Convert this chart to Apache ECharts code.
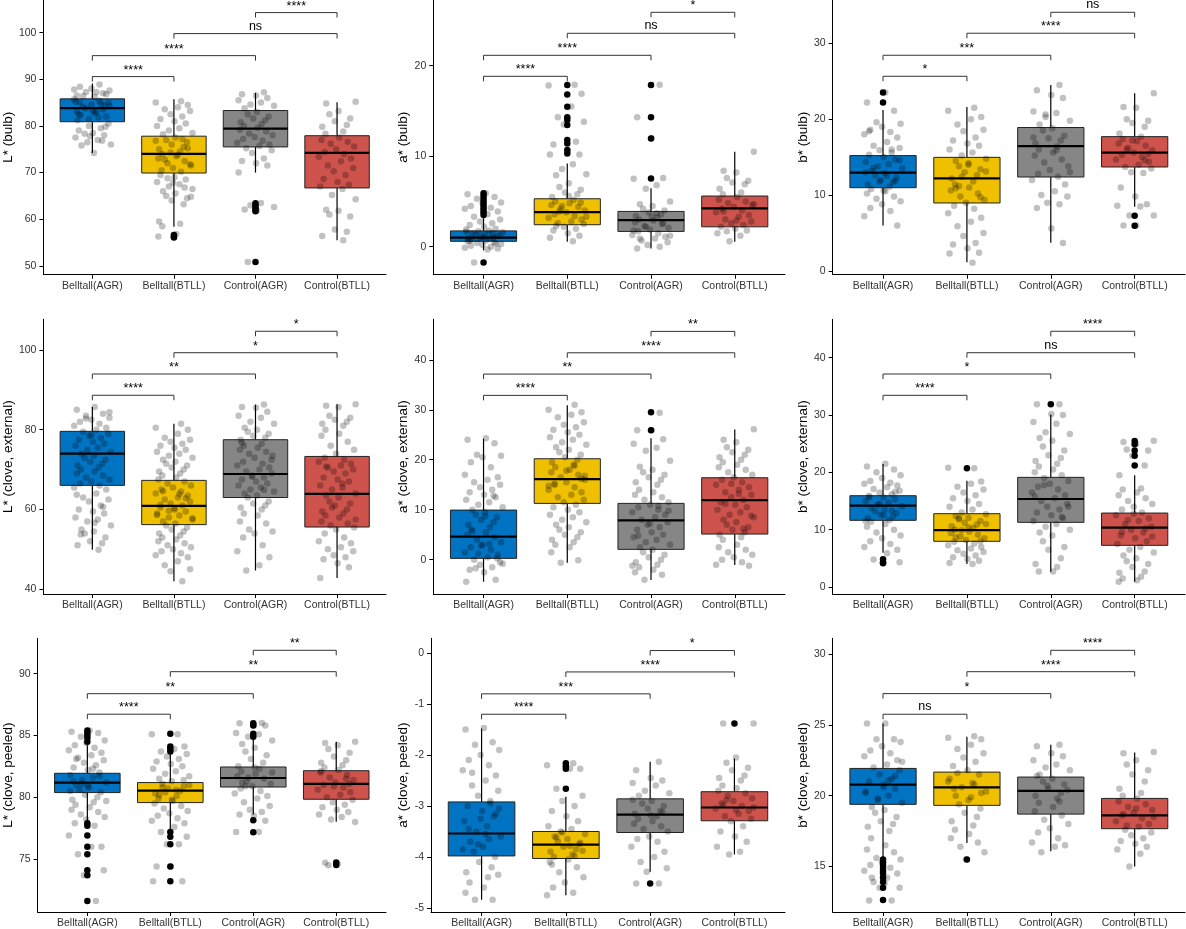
<!DOCTYPE html>
<html lang="en">
<head>
    <meta charset="UTF-8">
    <title>Colour boxplots</title>
    <script type="text/javascript" src="https://cdn.jsdelivr.net/npm/echarts@6/dist/echarts.min.js"></script>
    <style>
      html, body { margin: 0; padding: 0; background: #fff; }
      #main { width: 1186px; height: 929px; }
    </style>
</head>
<body>
  <div id="main"></div>

<script type="text/javascript">

// categories and colours
const CATEGORIES = ['Belltall(AGR)', 'Belltall(BTLL)', 'Control(AGR)', 'Control(BTLL)'];
const FILLS = ['#0073C2', '#EFC000', '#868686', '#CD534C'];
const Y_TITLES = ['L* (bulb)', 'a* (bulb)', 'b* (bulb)',
  'L* (clove, external)', 'a* (clove, external)', 'b* (clove, external)',
  'L* (clove, peeled)', 'a* (clove, peeled)', 'b* (clove, peeled)'];
const Y_TICKS = [[50, 60, 70, 80, 90, 100], [0, 10, 20], [0, 10, 20, 30],
  [40, 60, 80, 100], [0, 10, 20, 30, 40], [0, 10, 20, 30, 40],
  [75, 80, 85, 90], [-5, -4, -3, -2, -1, 0], [15, 20, 25, 30]];
const SIG_PAIRS = [[1, 2], [1, 3], [2, 4], [3, 4]];

// ---- panel 1 : L* (bulb) ----  box = [lower whisker, q1, median, q3, upper whisker]
const p1Box = [[74.2, 80.9, 83.8, 85.8, 89.1], [58.4, 69.9, 74.0, 77.8, 85.7], [70.0, 75.5, 79.4, 83.3, 87.1], [55.5, 66.7, 74.2, 77.9, 85.1]];
const p1Out = [[], [56.6, 56.3, 56.1], [63.4, 63.0, 62.5, 62.1, 61.7, 50.8], []];
const p1Pts = [
  [86.2, 86.5, 87, 87.3, 87.6, 88, 88.4, 88.9, 87.8, 86.8, 87.2, 86.4, 80.5, 80, 79.5, 79, 78.5, 78, 77.5, 77, 76.5, 76, 75.8, 74.2, 78.3, 79.8, 77.8, 76.8, 81.2, 81.8, 82.3, 82.7, 83.1, 83.5, 83.8, 84.2, 84.6, 85, 85.4, 85.7, 82, 83, 84, 85, 81.5, 84.8, 82.5, 83.3, 84.4, 85.2],
  [85.3, 85, 84.5, 84, 83.6, 83.2, 82.5, 82, 81.5, 81, 80.5, 80, 79.5, 79, 78.5, 78.2, 77.5, 77, 76.5, 76, 75.5, 75, 74.5, 74, 73.5, 73, 72.5, 72, 71.5, 71, 70.5, 70.2, 76.8, 75.2, 73.8, 72.8, 71.8, 74.3, 77.2, 69.5, 69, 68.5, 68, 67.5, 67, 66.5, 66, 65.5, 65, 64.5, 64, 63.2, 59.5, 59, 58.5, 56.8, 56.3, 66.8, 68.8, 64.8, 67.8],
  [87.2, 86.8, 86.5, 86, 85.5, 85, 84.6, 84.3, 83.8, 83, 82.5, 82, 81.6, 81.2, 80.8, 80.4, 80, 79.6, 79.2, 78.8, 78.4, 78, 77.6, 77.2, 76.8, 76.4, 76, 75.7, 75.2, 74.8, 74.2, 73, 72.5, 72, 71.5, 70, 63.5, 63, 62.6, 62.1, 61.8, 50.8],
  [85.2, 84.8, 83.2, 82.5, 81.6, 81, 80.2, 79.8, 78.8, 78.3, 77.5, 77, 76.6, 76.2, 75.6, 75, 74.4, 74, 73.4, 73, 72.4, 71.5, 71, 70.3, 69.5, 68.6, 68, 67.4, 67, 66.5, 65.2, 64.3, 62, 61.8, 61, 60.6, 57.8, 57.3, 56.4, 55.5]];
const p1SigY = [90.58, 95.07, 99.8, 104.3];
const p1SigLab = ['****', '****', 'ns', '****'];

// ---- panel 2 : a* (bulb) ----
const p2Box = [[-0.4, 0.6, 1.0, 1.75, 3.3], [0.55, 2.43, 3.83, 5.3, 9.2], [-0.2, 1.69, 2.95, 3.9, 6.45], [0.55, 2.2, 4.24, 5.6, 10.5]];
const p2Out = [[3.5, 3.8, 4.1, 4.4, 4.7, 5.0, 5.3, 5.6, 5.9, -1.75], [17.86, 16.83, 15.47, 14.3, 14.0, 13.44, 11.8, 11.4, 10.7, 10.3], [17.86, 14.3, 11.97, 7.55], []];
const p2Pts = [
  [5.9, 5.8, 5.5, 5.3, 4.9, 4.8, 4.5, 4.3, 4.2, 3.9, 3.6, 3.3, 3.0, 2.8, 2.6, 2.4, 2.2, 2.0, 1.9, 1.8, 1.7, 1.6, 1.5, 1.4, 1.3, 1.2, 1.1, 1.0, 0.95, 0.9, 0.8, 0.7, 0.6, 0.5, 0.4, 0.3, 0.2, 0.1, 0, -0.1, -0.2, -0.3, -1.75, 1.25, 0.85, 1.45, 0.65, 1.05, 0.35, 1.65],
  [17.9, 17.8, 16.9, 15.5, 14.3, 13.8, 13.5, 11.6, 11.3, 10.6, 10.2, 10.2, 9.1, 8.6, 8.0, 7.9, 7.0, 6.6, 6.3, 6.0, 5.8, 5.5, 5.2, 5.0, 4.8, 4.6, 4.4, 4.2, 4.0, 3.8, 3.6, 3.4, 3.2, 3.0, 2.8, 2.6, 2.5, 2.2, 2.0, 1.8, 1.5, 1.2, 1.0, 0.6, 4.5, 3.3, 2.3, 5.6, 3.9, 4.9],
  [17.9, 14.3, 12.0, 7.6, 7.5, 6.8, 6.4, 5.0, 4.7, 4.5, 4.2, 4.0, 3.8, 3.6, 3.4, 3.2, 3.0, 2.9, 2.7, 2.5, 2.3, 2.1, 1.9, 1.7, 1.5, 1.3, 1.1, 0.9, 0.7, 0.5, 0.2, 0, -0.2, 3.3, 2.6, 1.8, 3.7, 2.2, 1.2, 0.9],
  [10.5, 8.4, 8.2, 7.6, 7.3, 7.1, 6.9, 6.4, 6.0, 5.8, 5.5, 5.2, 5.0, 4.8, 4.6, 4.4, 4.2, 4.0, 3.8, 3.5, 3.3, 3.0, 2.8, 2.6, 2.4, 2.2, 2.0, 1.8, 1.5, 1.2, 0.6, 4.7, 3.9, 2.9, 1.7]];
const p2SigY = [18.83, 21.15, 23.58, 25.9];
const p2SigLab = ['****', '****', 'ns', '*'];

// ---- panel 3 : b* (bulb) ----
const p3Box = [[6.0, 10.97, 12.95, 15.2, 21.2], [1.14, 8.96, 12.2, 14.97, 21.6], [3.73, 12.38, 16.46, 18.9, 24.5], [8.47, 13.7, 15.58, 17.7, 23.4]];
const p3Out = [[23.5, 22.2], [], [], [7.29, 5.97]];
const p3Pts = [
  [23.5, 22.2, 21.1, 19.6, 19.4, 19.0, 18.6, 18.3, 18.0, 17.6, 17.0, 16.5, 16.2, 15.9, 15.6, 15.3, 15.0, 14.7, 14.4, 14.1, 13.8, 13.5, 13.2, 12.9, 12.6, 12.3, 12.0, 11.7, 11.4, 11.1, 10.8, 10.5, 10.2, 9.8, 9.5, 9.2, 8.8, 8.3, 7.9, 7.2, 6.0, 12.5, 13.6, 14.6, 11.8, 16.0, 18.4, 10.6, 11.9, 13.0],
  [21.5, 21.1, 20.3, 20.0, 19.3, 18.6, 18.4, 17.6, 17.2, 16.8, 16.5, 16.0, 15.6, 15.2, 14.8, 14.5, 14.2, 13.8, 13.4, 13.0, 12.6, 12.2, 11.8, 11.4, 11.0, 10.6, 10.2, 9.8, 9.4, 9.0, 8.6, 8.2, 7.6, 7.0, 6.5, 5.9, 5.0, 4.6, 3.7, 3.5, 3.0, 2.4, 2.3, 1.1, 12.4, 13.1, 10.9, 14.0, 11.2, 9.7],
  [24.5, 23.8, 23.2, 22.8, 21.0, 20.8, 20.3, 19.8, 19.3, 18.8, 18.5, 17.8, 17.5, 17.2, 16.8, 16.4, 16.0, 15.6, 15.2, 14.7, 14.3, 13.8, 13.3, 12.8, 12.4, 12.0, 11.4, 10.5, 10.0, 9.8, 9.0, 8.8, 8.3, 5.6, 3.7, 17.6, 15.9, 20.6, 13.0],
  [23.4, 21.6, 21.5, 20.0, 19.8, 19.5, 19.0, 18.1, 17.7, 17.4, 17.1, 16.8, 16.5, 16.2, 15.9, 15.6, 15.3, 15.0, 14.7, 14.4, 14.0, 13.7, 13.5, 13.0, 12.9, 11.0, 9.8, 8.8, 8.6, 8.5, 7.3, 7.3, 6.0, 6.0, 16.0, 15.4, 17.2, 14.6]];
const p3SigY = [25.65, 28.42, 31.32, 34.08];
const p3SigLab = ['*', '***', '****', 'ns'];

// ---- panel 4 : L* (clove, external) ----
const p4Box = [[49.9, 66.05, 74.0, 79.6, 85.7], [42.0, 56.2, 60.9, 67.3, 81.5], [44.7, 63.0, 68.9, 77.5, 86.3], [42.8, 55.6, 63.9, 73.3, 86.4]];
const p4Out = [[], [], [], []];
const p4Pts = [
  [85.7, 85.0, 84.0, 83.5, 83.0, 82.5, 82.0, 81.5, 81.0, 80.5, 80.0, 79.5, 79.0, 78.5, 78.0, 77.5, 77.0, 76.5, 76.0, 75.5, 75.0, 74.5, 74.0, 73.5, 73.0, 72.5, 72.0, 71.5, 71.0, 70.5, 70.0, 69.5, 69.0, 68.5, 68.0, 67.5, 67.0, 66.5, 66.0, 65.5, 65.0, 64.0, 63.0, 62.5, 62.0, 61.0, 60.0, 59.5, 59.0, 58.0, 57.5, 57.0, 56.0, 55.0, 54.5, 54.0, 53.0, 52.0, 51.5, 51.0, 49.9, 53.7, 56.7, 63.7, 60.6, 82.8, 84.4, 78.7],
  [81.5, 80.5, 80.0, 79.0, 78.0, 77.5, 77.0, 76.5, 76.0, 75.5, 75.0, 74.5, 74.0, 73.5, 73.0, 72.5, 72.0, 71.5, 71.0, 70.5, 70.0, 69.5, 69.0, 68.5, 68.0, 67.5, 67.0, 66.5, 66.0, 65.5, 65.0, 64.5, 64.0, 63.5, 63.0, 62.5, 62.0, 61.5, 61.0, 60.5, 60.0, 59.5, 59.0, 58.5, 58.0, 57.5, 57.0, 56.5, 56.0, 55.5, 55.0, 54.5, 54.0, 53.5, 53.0, 52.5, 52.0, 51.5, 51.0, 50.5, 50.0, 49.5, 49.0, 48.5, 48.0, 47.0, 46.0, 45.0, 44.5, 42.0, 61.2, 60.3, 62.8, 58.6, 63.9, 59.7, 57.8, 64.6],
  [86.3, 85.7, 85.5, 84.5, 83.5, 83.0, 82.0, 81.5, 80.5, 80.0, 79.5, 79.0, 78.5, 78.0, 77.5, 76.5, 76.0, 75.5, 75.0, 74.5, 74.0, 73.5, 73.0, 72.0, 71.5, 71.0, 70.5, 70.0, 69.5, 69.0, 68.5, 68.0, 67.5, 67.0, 66.5, 66.0, 65.5, 65.0, 64.5, 64.0, 63.5, 63.0, 62.0, 61.5, 61.0, 60.5, 60.0, 59.0, 58.5, 57.0, 56.5, 55.0, 54.5, 54.0, 53.0, 51.0, 49.5, 48.0, 46.0, 44.7, 72.5, 68.2, 64.9, 76.7],
  [86.4, 86.0, 85.7, 83.5, 83.0, 82.5, 82.0, 81.5, 81.0, 80.0, 79.0, 78.5, 77.0, 76.0, 75.0, 74.0, 73.0, 72.5, 72.0, 71.5, 71.0, 70.5, 70.0, 69.5, 69.0, 68.0, 67.5, 67.0, 66.0, 65.5, 65.0, 64.0, 63.5, 63.0, 62.0, 61.5, 61.0, 60.0, 59.5, 59.0, 58.5, 58.0, 57.0, 56.5, 56.0, 55.5, 55.0, 54.0, 53.0, 52.0, 51.5, 50.5, 50.0, 49.5, 48.5, 48.0, 47.5, 46.5, 45.5, 42.8, 66.5, 60.5, 57.5, 70.8]];
const p4SigY = [88.65, 93.98, 99.32, 104.7];
const p4SigLab = ['****', '**', '*', '*'];

// ---- panel 5 : a* (clove, external) ----
const p5Box = [[-4.4, 0.27, 4.6, 9.93, 24.2], [-0.6, 11.27, 16.13, 20.2, 30.9], [-4.07, 2.07, 7.87, 11.27, 24.3], [-1.07, 5.13, 11.93, 16.4, 26.07]];
const p5Out = [[], [], [29.5, 25.9], []];
const p5Pts = [
  [24.3, 24.0, 23.3, 21.0, 20.8, 20.5, 19.5, 18.5, 17.0, 16.5, 16.0, 15.5, 15.0, 14.5, 14.0, 13.5, 13.0, 12.5, 12.0, 11.5, 11.0, 10.5, 10.0, 9.5, 9.0, 8.5, 8.0, 7.5, 7.0, 6.5, 6.0, 5.5, 5.0, 4.5, 4.0, 3.5, 3.0, 2.5, 2.0, 1.5, 1.0, 0.5, 0.0, -0.5, -1.0, -1.5, -2.0, -2.5, -4.0, -4.4, 3.2, 1.2, -0.8, 5.7, 8.7, -1.7, 0.3, 2.8, 12.8],
  [31.0, 30.0, 29.5, 29.0, 28.5, 27.5, 27.0, 26.5, 26.0, 25.5, 25.0, 24.5, 24.0, 23.5, 23.0, 22.5, 22.0, 21.5, 21.0, 20.5, 20.0, 19.5, 19.0, 18.5, 18.0, 17.5, 17.0, 16.5, 16.0, 15.5, 15.0, 14.5, 14.0, 13.5, 13.0, 12.5, 12.0, 11.5, 11.0, 10.5, 10.0, 9.5, 9.0, 8.5, 8.0, 7.5, 7.0, 6.5, 6.0, 5.5, 5.0, 4.5, 4.0, 3.5, 3.0, 2.5, 1.5, -0.1, -0.6, 16.8, 17.8, 15.2, 18.8, 14.8, 16.2],
  [29.4, 25.9, 25.9, 24.1, 23.2, 22.4, 21.8, 19.8, 18.6, 18.0, 17.5, 17.0, 16.5, 16.0, 15.5, 15.0, 14.0, 13.5, 13.0, 12.5, 12.0, 11.5, 11.0, 10.5, 10.0, 9.5, 9.0, 8.5, 8.0, 7.5, 7.0, 6.5, 6.0, 5.5, 5.0, 4.5, 4.0, 3.5, 3.0, 2.5, 2.0, 1.5, 1.0, 0.5, 0.0, -0.5, -1.0, -1.5, -2.0, -2.5, -3.0, -4.0, 9.8, 7.2, 4.8, 10.8, -1.2],
  [26.1, 24.0, 23.5, 22.5, 22.0, 21.5, 21.0, 20.5, 20.0, 19.5, 19.0, 18.5, 18.0, 17.5, 17.0, 16.5, 16.0, 15.5, 15.0, 14.5, 14.0, 13.5, 13.0, 12.5, 12.0, 11.5, 11.0, 10.5, 10.0, 9.5, 9.0, 8.5, 8.0, 7.5, 7.0, 6.5, 6.0, 5.5, 5.0, 4.5, 4.0, 3.0, 2.5, 2.0, 1.5, 1.0, 0.5, 0.0, -0.5, -1.0, -1.2, 13.2, 11.2, 8.8, 15.2, 6.2]];
const p5SigY = [32.88, 37.14, 41.4, 45.68];
const p5SigLab = ['****', '**', '****', '**'];

// ---- panel 6 : b* (clove, external) ----
const p6Box = [[5.99, 11.63, 14.19, 15.93, 21.45], [4.01, 7.97, 9.94, 12.79, 18.55], [2.67, 11.28, 15.35, 19.13, 30.1], [0.93, 7.27, 10.35, 12.9, 19.5]];
const p6Out = [[4.83, 4.3, 4.13], [20.7], [31.86], [25.47, 24.9, 23.8, 22.9, 21.2]];
const p6Pts = [
  [21.5, 21.0, 20.5, 20.0, 19.5, 19.0, 18.5, 18.2, 18.0, 17.7, 17.4, 17.1, 16.8, 16.5, 16.2, 15.9, 15.6, 15.3, 15.0, 14.7, 14.4, 14.1, 13.8, 13.5, 13.2, 12.9, 12.6, 12.3, 12.0, 11.7, 11.4, 11.0, 10.5, 10.0, 9.5, 9.0, 8.5, 8.0, 7.5, 7.0, 6.5, 5.9, 4.8, 4.3, 14.5, 13.3, 15.6, 12.5, 16.6, 11.5],
  [20.7, 20.8, 18.4, 18.0, 17.5, 17.0, 16.5, 16.0, 15.5, 15.0, 14.5, 14.0, 13.5, 13.0, 12.7, 12.4, 12.1, 11.8, 11.5, 11.2, 10.9, 10.6, 10.3, 10.0, 9.7, 9.4, 9.1, 8.8, 8.5, 8.2, 7.9, 7.6, 7.3, 7.0, 6.7, 6.4, 6.1, 5.8, 5.5, 5.2, 4.9, 4.6, 4.2, 4.0, 9.9, 11.0, 8.7, 10.4, 12.0, 8.0],
  [31.9, 31.9, 30.2, 30.0, 28.8, 28.5, 27.0, 26.7, 26.0, 25.5, 24.5, 23.8, 23.0, 22.5, 22.0, 21.5, 21.0, 20.5, 20.0, 19.5, 19.0, 18.5, 18.0, 17.5, 17.0, 16.5, 16.0, 15.5, 15.0, 14.5, 14.0, 13.5, 13.0, 12.5, 12.0, 11.5, 11.0, 10.5, 10.0, 9.5, 9.0, 8.0, 7.0, 6.5, 5.0, 4.0, 3.5, 2.7, 2.7, 15.8, 12.2, 17.8, 14.0],
  [25.5, 25.3, 25.0, 24.0, 23.8, 22.9, 21.2, 19.5, 17.2, 17.0, 16.5, 16.0, 15.5, 15.0, 14.5, 14.0, 13.5, 13.0, 12.5, 12.0, 11.5, 11.0, 10.5, 10.0, 9.5, 9.0, 8.5, 8.0, 7.5, 7.0, 6.5, 6.0, 5.5, 5.0, 4.5, 4.0, 3.5, 2.7, 2.5, 1.8, 1.5, 1.2, 0.9, 10.2, 11.7, 8.8, 12.8, 9.6]];
const p6SigY = [33.44, 37.16, 40.87, 44.61];
const p6SigLab = ['****', '*', 'ns', '****'];

// ---- panel 7 : L* (clove, peeled) ----
const p7Box = [[78.1, 80.38, 81.19, 81.94, 84.2], [77.3, 79.57, 80.54, 81.19, 83.6], [78.6, 80.83, 81.56, 82.45, 84.7], [78.03, 79.84, 81.08, 82.15, 84.5]];
const p7Out = [[85.4, 85.2, 85.0, 84.8, 84.5, 77.9, 77.7, 76.9, 76.0, 75.4, 74.1, 73.7, 71.6], [85.14, 84.1, 83.9, 83.7, 77.2, 76.8, 76.2, 74.4, 73.2], [85.98, 85.8, 85.14, 84.9, 78.14, 77.17], [74.72, 74.53]];
const p7Pts = [
  [85.4, 85.3, 85.2, 84.9, 84.6, 84.4, 84.2, 84.0, 83.8, 83.6, 83.4, 83.2, 83.0, 82.8, 82.6, 82.4, 82.2, 82.0, 81.8, 81.6, 81.4, 81.2, 81.0, 80.8, 80.6, 80.4, 80.2, 80.0, 79.8, 79.6, 79.4, 79.2, 79.0, 78.8, 78.6, 78.4, 78.2, 77.9, 77.7, 76.9, 76.0, 76.0, 75.4, 74.1, 73.7, 71.6, 81.3, 80.9, 81.7, 80.5, 82.3, 81.1, 79.7, 83.1],
  [85.1, 85.1, 84.1, 83.9, 83.7, 83.5, 83.3, 83.1, 82.9, 82.7, 82.5, 82.3, 82.1, 81.9, 81.7, 81.5, 81.3, 81.1, 80.9, 80.7, 80.5, 80.3, 80.1, 79.9, 79.7, 79.5, 79.3, 79.1, 78.9, 78.7, 78.5, 78.3, 78.1, 77.9, 77.6, 77.2, 76.8, 76.2, 76.2, 74.4, 74.4, 73.2, 73.2, 80.6, 80.4, 81.0, 80.2, 79.8, 80.8, 81.4],
  [86.0, 85.98, 85.8, 85.8, 85.2, 85.1, 84.9, 84.6, 84.3, 84.0, 83.7, 83.4, 83.1, 82.8, 82.5, 82.3, 82.1, 81.9, 81.7, 81.5, 81.3, 81.1, 80.9, 80.7, 80.5, 80.3, 80.1, 79.9, 79.6, 79.3, 79.0, 78.8, 78.6, 78.5, 78.1, 77.2, 77.2, 81.6, 82.0, 81.2, 82.4, 80.9],
  [84.5, 84.4, 84.2, 83.9, 83.6, 83.3, 83.0, 82.8, 82.6, 82.4, 82.2, 82.0, 81.8, 81.6, 81.4, 81.2, 81.0, 80.8, 80.6, 80.4, 80.2, 80.0, 79.8, 79.6, 79.4, 79.2, 79.0, 78.8, 78.6, 78.4, 78.2, 78.0, 74.7, 74.6, 74.5, 81.1, 80.9, 81.5, 82.1]];
const p7SigY = [86.72, 88.38, 90.16, 91.89];
const p7SigLab = ['****', '**', '**', '**'];

// ---- panel 8 : a* (clove, peeled) ----
const p8Box = [[-4.84, -3.98, -3.54, -2.92, -1.48], [-4.75, -4.03, -3.76, -3.5, -2.82], [-4.29, -3.52, -3.17, -2.86, -2.13], [-3.95, -3.29, -3.03, -2.72, -2.07]];
const p8Out = [[], [-2.16, -2.22, -2.27, -2.66], [-4.52], [-1.38]];
const p8Pts = [
  [-1.47, -1.5, -1.75, -1.8, -1.9, -2.0, -2.1, -2.2, -2.3, -2.4, -2.5, -2.6, -2.7, -2.8, -2.9, -3.0, -3.1, -3.2, -3.3, -3.4, -3.5, -3.6, -3.7, -3.8, -3.9, -4.0, -4.1, -4.2, -4.3, -4.4, -4.5, -4.6, -4.7, -4.84, -4.84, -3.05, -3.25, -3.45, -3.65, -3.85, -3.15, -3.55, -2.35, -4.35, -3.75, -2.95],
  [-2.16, -2.2, -2.27, -2.27, -2.66, -2.8, -2.9, -3.0, -3.1, -3.2, -3.3, -3.4, -3.45, -3.5, -3.55, -3.6, -3.65, -3.7, -3.75, -3.8, -3.85, -3.9, -3.95, -4.0, -4.05, -4.1, -4.2, -4.3, -4.4, -4.5, -4.6, -4.7, -4.75, -3.72, -3.78, -3.62, -3.88, -3.52, -3.98, -4.15],
  [-2.13, -2.3, -2.45, -2.5, -2.55, -2.6, -2.7, -2.75, -2.8, -2.9, -2.95, -3.0, -3.05, -3.1, -3.15, -3.2, -3.25, -3.3, -3.35, -3.4, -3.45, -3.5, -3.6, -3.65, -3.7, -3.8, -3.9, -4.0, -4.1, -4.22, -4.29, -4.52, -4.52, -3.18, -3.12, -2.88],
  [-1.38, -1.38, -2.05, -2.15, -2.25, -2.3, -2.4, -2.45, -2.5, -2.6, -2.65, -2.7, -2.75, -2.8, -2.85, -2.9, -2.95, -3.0, -3.05, -3.1, -3.15, -3.2, -3.25, -3.3, -3.4, -3.5, -3.6, -3.7, -3.8, -3.9, -3.95, -3.03, -2.98, -3.08, -2.88]];
const p8SigY = [-1.2, -0.8, -0.37, 0.05];
const p8SigLab = ['****', '***', '****', '*'];

// ---- panel 9 : b* (clove, peeled) ----
const p9Box = [[15.6, 19.39, 20.78, 21.93, 25.1], [16.66, 19.32, 20.59, 21.67, 24.17], [16.07, 18.7, 20.35, 21.32, 23.6], [15.0, 17.67, 18.61, 19.81, 23.06]];
const p9Out = [[15.5, 15.3, 15.1, 14.9, 14.7, 14.5, 14.2, 13.9, 13.5, 12.63], [15.5], [], []];
const p9Pts = [
  [25.1, 25.1, 24.0, 24.0, 23.8, 23.5, 23.2, 23.0, 22.8, 22.5, 22.2, 22.0, 21.8, 21.5, 21.2, 21.0, 20.8, 20.5, 20.2, 20.0, 19.8, 19.5, 19.2, 19.0, 18.8, 18.5, 18.2, 18.0, 17.8, 17.5, 17.0, 16.5, 16.2, 16.0, 15.6, 15.5, 15.3, 15.1, 14.9, 14.7, 14.5, 14.2, 13.9, 13.5, 13.5, 12.6, 12.6, 20.6, 21.4, 20.3, 21.1, 19.7, 22.4, 14.2, 13.8],
  [24.2, 24.1, 24.0, 23.6, 23.3, 23.0, 22.7, 22.4, 22.1, 21.8, 21.5, 21.2, 20.9, 20.6, 20.3, 20.0, 19.7, 19.4, 19.1, 18.8, 18.5, 18.2, 17.9, 17.6, 17.3, 17.0, 16.7, 16.4, 16.0, 15.5, 20.5, 20.8, 21.0, 20.2, 19.9, 21.6],
  [23.6, 23.5, 23.0, 22.8, 22.5, 22.2, 22.0, 21.8, 21.5, 21.2, 21.0, 20.8, 20.5, 20.2, 20.0, 19.8, 19.5, 19.2, 18.9, 18.6, 18.3, 18.0, 17.7, 17.4, 17.0, 16.7, 16.5, 16.4, 16.0, 20.4, 20.7, 19.6, 21.4],
  [23.1, 23.0, 22.5, 22.2, 21.8, 21.5, 21.0, 20.5, 20.2, 20.0, 19.8, 19.6, 19.4, 19.2, 19.0, 18.8, 18.6, 18.4, 18.2, 18.0, 17.8, 17.6, 17.4, 17.2, 17.0, 16.8, 16.6, 16.4, 16.2, 15.9, 15.0, 18.5, 18.7, 19.1, 17.9]];
const p9SigY = [25.76, 27.22, 28.77, 30.28];
const p9SigLab = ['ns', '*', '****', '****'];

const PANELS = [
  {box: p1Box, out: p1Out, pts: p1Pts, sigY: p1SigY, sigLab: p1SigLab},
  {box: p2Box, out: p2Out, pts: p2Pts, sigY: p2SigY, sigLab: p2SigLab},
  {box: p3Box, out: p3Out, pts: p3Pts, sigY: p3SigY, sigLab: p3SigLab},
  {box: p4Box, out: p4Out, pts: p4Pts, sigY: p4SigY, sigLab: p4SigLab},
  {box: p5Box, out: p5Out, pts: p5Pts, sigY: p5SigY, sigLab: p5SigLab},
  {box: p6Box, out: p6Out, pts: p6Pts, sigY: p6SigY, sigLab: p6SigLab},
  {box: p7Box, out: p7Out, pts: p7Pts, sigY: p7SigY, sigLab: p7SigLab},
  {box: p8Box, out: p8Out, pts: p8Pts, sigY: p8SigY, sigLab: p8SigLab},
  {box: p9Box, out: p9Out, pts: p9Pts, sigY: p9SigY, sigLab: p9SigLab}
];

// layout (pixels) : left, top, width, height of each plot area, y extent, title gap
const GRID_POS = [
  [39.3, 0, 346.7, 274.7], [433.3, 0, 351.7, 274.7], [832.7, 0, 352.3, 274.7],
  [39.3, 319.3, 346.7, 274.7], [433.3, 319.3, 351.7, 274.7], [832.7, 319.3, 352.3, 274.7],
  [33.3, 638.3, 352.7, 274], [431, 638.3, 354, 274], [832.7, 638.3, 352.3, 274]];
const Y_RANGE = [[48.1, 107], [-3.09, 27.26], [-0.49, 35.7], [38.8, 107.7], [-6.86, 48.1],
  [-1.22, 46.7], [70.72, 92.86], [-5.08, 0.29], [11.78, 31.13]];
const NAME_GAP = [23, 19, 20, 25, 19, 21, 21, 16, 21];

// fixed horizontal jitter pattern (fraction of half width)
const JITTER = [0.12, -0.83, 0.57, -0.34, 0.91, -0.05, -0.66, 0.38, -0.97, 0.74, 0.21, -0.49, 0.86, -0.18, 0.45,
  -0.72, 0.03, 0.63, -0.9, 0.29, -0.27, 0.99, -0.58, 0.08, -0.41, 0.7, -0.12, 0.52, -0.79, 0.33, -0.62];
const JITTER_W = 0.23;
const BOX_W = 0.79;
const FONT = 'Liberation Sans, Arial, Helvetica, sans-serif';

var chart = echarts.init(document.getElementById('main'), null, {renderer: 'canvas'});

function renderBox(params, api) {
  var x = api.value(0);
  var lw = api.coord([x, api.value(1)]);
  var q1 = api.coord([x, api.value(2)]);
  var med = api.coord([x, api.value(3)]);
  var q3 = api.coord([x, api.value(4)]);
  var uw = api.coord([x, api.value(5)]);
  var half = api.size([BOX_W, 0])[0] / 2;
  return {
    type: 'group',
    children: [
      {type: 'line', shape: {x1: lw[0], y1: lw[1], x2: q1[0], y2: q1[1]}, style: {stroke: '#000', lineWidth: 1.2}},
      {type: 'line', shape: {x1: q3[0], y1: q3[1], x2: uw[0], y2: uw[1]}, style: {stroke: '#000', lineWidth: 1.2}},
      {type: 'rect', shape: {x: med[0] - half, y: q3[1], width: half * 2, height: q1[1] - q3[1]},
        style: {fill: api.visual('color'), stroke: '#222', lineWidth: 1}},
      {type: 'line', shape: {x1: med[0] - half, y1: med[1], x2: med[0] + half, y2: med[1]}, style: {stroke: '#000', lineWidth: 2.2}}
    ]
  };
}

function makeBracketRender(labels) {
  return function (params, api) {
    var a = api.coord([api.value(0), api.value(2)]);
    var b = api.coord([api.value(1), api.value(2)]);
    var lab = labels[params.dataIndex];
    var tip = 5;
    return {
      type: 'group',
      children: [
        {type: 'polyline', shape: {points: [[a[0], a[1] + tip], [a[0], a[1]], [b[0], b[1]], [b[0], b[1] + tip]]},
          style: {stroke: '#333', lineWidth: 1, fill: null}},
        {type: 'text', x: (a[0] + b[0]) / 2, y: a[1] - (lab === 'ns' ? 1 : 0),
          style: {text: lab, fill: '#000', fontSize: 12.5, fontFamily: FONT, align: 'center', verticalAlign: 'bottom'}}
      ]
    };
  };
}

var grids = [], xAxes = [], yAxes = [], series = [];

PANELS.forEach(function (p, k) {
  var g = GRID_POS[k];
  grids.push({left: g[0], top: g[1], width: g[2], height: g[3]});

  xAxes.push({
    gridIndex: k, type: 'value', min: 0.4, max: 4.6,
    axisLine: {show: true, onZero: false, lineStyle: {color: '#000', width: 1}},
    axisTick: {show: true, customValues: [1, 2, 3, 4], length: 4, lineStyle: {color: '#000'}},
    axisLabel: {customValues: [1, 2, 3, 4], formatter: function (v) { return CATEGORIES[Math.round(v) - 1]; },
      fontSize: 10.5, color: '#333', margin: 6, fontFamily: FONT},
    splitLine: {show: false}
  });

  yAxes.push({
    gridIndex: k, type: 'value', min: Y_RANGE[k][0], max: Y_RANGE[k][1],
    name: Y_TITLES[k], nameLocation: 'middle', nameGap: NAME_GAP[k],
    nameTextStyle: {fontSize: 13.5, color: '#000', fontFamily: FONT},
    axisLine: {show: true, onZero: false, lineStyle: {color: '#000', width: 1}},
    axisTick: {show: true, customValues: Y_TICKS[k], length: 4, lineStyle: {color: '#000'}},
    axisLabel: {customValues: Y_TICKS[k], fontSize: 10.5, color: '#333', margin: 7, fontFamily: FONT},
    splitLine: {show: false}
  });

  // boxes
  series.push({
    type: 'custom', xAxisIndex: k, yAxisIndex: k, renderItem: renderBox, silent: true,
    data: p.box.map(function (s, i) {
      return {value: [i + 1].concat(s), itemStyle: {color: FILLS[i]}};
    })
  });

  // outliers (black)
  var outData = [];
  p.out.forEach(function (vals, i) {
    vals.forEach(function (v) { outData.push([i + 1, v]); });
  });
  series.push({
    type: 'scatter', xAxisIndex: k, yAxisIndex: k, silent: true,
    symbolSize: 6.5, itemStyle: {color: '#000', opacity: 1}, data: outData
  });

  // jittered observations
  var ptData = [];
  p.pts.forEach(function (vals, i) {
    vals.forEach(function (v, j) {
      ptData.push([i + 1 + JITTER[(j + i * 7) % JITTER.length] * JITTER_W, v]);
    });
  });
  series.push({
    type: 'scatter', xAxisIndex: k, yAxisIndex: k, silent: true,
    symbolSize: 6.5, itemStyle: {color: 'rgba(0,0,0,0.3)'}, data: ptData
  });

  // significance brackets
  series.push({
    type: 'custom', xAxisIndex: k, yAxisIndex: k, silent: true, clip: false,
    renderItem: makeBracketRender(p.sigLab),
    data: SIG_PAIRS.map(function (pr, i) { return [pr[0], pr[1], p.sigY[i]]; })
  });
});

chart.setOption({
  animation: false,
  backgroundColor: '#fff',
  grid: grids,
  xAxis: xAxes,
  yAxis: yAxes,
  series: series
});

</script>
</body>
</html>
